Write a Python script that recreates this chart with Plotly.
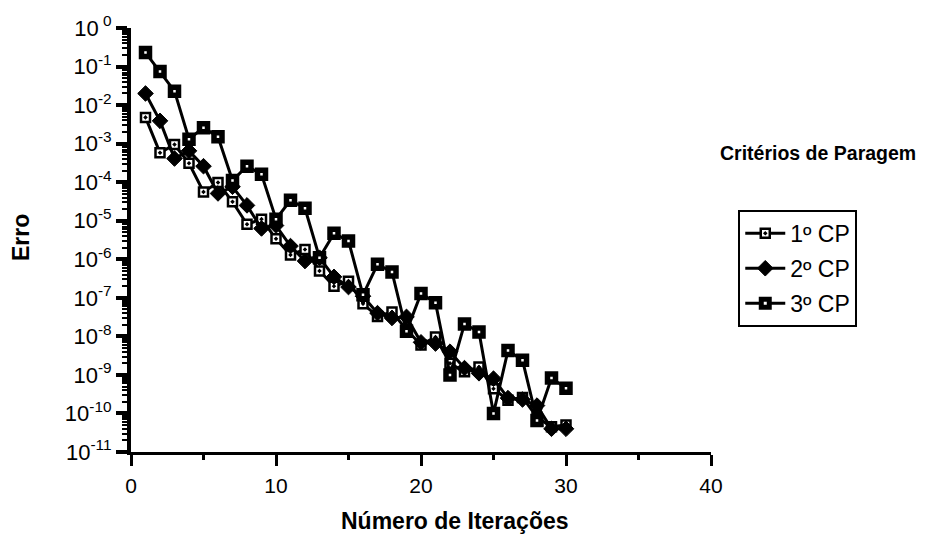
import plotly.graph_objects as go

iterations = list(range(1, 31))

cp1 = [4.8e-3, 5.8e-4, 9.5e-4, 3.1e-4, 5.6e-5, 9.8e-5, 3.1e-5, 8.1e-6, 1.1e-5, 3.4e-6,
       1.3e-6, 1.8e-6, 5.0e-7, 2.0e-7, 2.7e-7, 7.0e-8, 3.3e-8, 4.3e-8, 1.5e-8, 6.0e-9,
       9.6e-9, 2.0e-9, 1.2e-9, 1.6e-9, 4.4e-10, 2.2e-10, 2.6e-10, 8.0e-11, 4.5e-11, 5.0e-11]

cp2 = [2.0e-2, 3.9e-3, 4.1e-4, 6.5e-4, 2.6e-4, 5.1e-5, 7.6e-5, 2.5e-5, 6.3e-6, 7.5e-6,
       2.2e-6, 9.0e-7, 1.1e-6, 3.5e-7, 1.9e-7, 1.1e-7, 4.0e-8, 3.0e-8, 3.2e-8, 7.0e-9,
       6.5e-9, 4.0e-9, 1.5e-9, 1.1e-9, 8.0e-10, 2.5e-10, 2.3e-10, 1.6e-10, 4.0e-11, 4.0e-11]

cp3 = [2.3e-1, 7.4e-2, 2.3e-2, 1.3e-3, 2.6e-3, 1.5e-3, 1.1e-4, 2.6e-4, 1.6e-4, 1.1e-5,
       3.4e-5, 2.1e-5, 1.1e-6, 4.7e-6, 3.0e-6, 1.2e-7, 7.4e-7, 4.7e-7, 1.35e-8, 1.3e-7,
       7.5e-8, 1.0e-9, 2.1e-8, 1.3e-8, 1.0e-10, 4.3e-9, 2.4e-9, 6.6e-11, 8.3e-10, 4.5e-10]

series_names = ["1º CP", "2º CP", "3º CP"]
y_exponents = list(range(0, -12, -1))
y_tickvals = [10.0 ** e for e in y_exponents]
y_ticktext = [f"10<sup>{e}</sup>" if e != 0 else "10<sup> 0</sup>" for e in y_exponents]
y_minor = [m * 10.0 ** e for e in range(-11, 0) for m in range(2, 10)]
x_tickvals = [0, 10, 20, 30, 40]
x_minor = [5, 15, 25, 35]

FONT = "Liberation Sans, Arial, Helvetica, sans-serif"

fig = go.Figure()

fig.add_trace(go.Scatter(
    x=iterations, y=cp1, name=series_names[0], mode="lines+markers",
    line=dict(color="black", width=3), legendgroup="a",
    marker=dict(symbol="square-dot", size=9, color="white",
                line=dict(color="black", width=2.5)),
))
fig.add_trace(go.Scatter(
    x=iterations, y=cp2, name=series_names[1], mode="lines+markers",
    line=dict(color="black", width=3), legendgroup="b",
    marker=dict(symbol="diamond", size=12, color="black",
                line=dict(color="black", width=1)),
))
fig.add_trace(go.Scatter(
    x=iterations, y=cp3, name=series_names[2], mode="lines+markers",
    line=dict(color="black", width=3), legendgroup="c",
    marker=dict(symbol="square", size=8, color="white",
                line=dict(color="black", width=5.5)),
))
# invisible helper trace that carries the minor-tick overlay axes
fig.add_trace(go.Scatter(
    x=iterations, y=cp1, xaxis="x2", yaxis="y2", mode="markers",
    marker=dict(opacity=0), showlegend=False, hoverinfo="skip",
))

fig.update_layout(
    width=928, height=547,
    margin=dict(l=131, r=217, t=28, b=95),
    paper_bgcolor="white", plot_bgcolor="white",
    font=dict(family=FONT, color="black", size=21),
    legend=dict(
        x=1.047, y=0.571, xanchor="left", yanchor="top",
        bordercolor="black", borderwidth=2, bgcolor="white",
        font=dict(size=23, family=FONT), tracegroupgap=2,
        traceorder="grouped", itemwidth=40,
    ),
    xaxis=dict(
        range=[0, 40], tickmode="array", tickvals=x_tickvals, ticks="outside", ticklen=11,
        tickwidth=3, tickcolor="black", showline=True, linecolor="black", linewidth=3,
        showgrid=False, zeroline=False, tickfont=dict(size=21), ticklabelstandoff=2,
    ),
    yaxis=dict(
        type="log", range=[-11, 0], tickmode="array", tickvals=y_tickvals,
        ticktext=y_ticktext, ticks="outside", ticklen=11, tickwidth=3.5, tickcolor="black",
        showline=True, linecolor="black", linewidth=4,
        showgrid=False, zeroline=False, tickfont=dict(size=22),
    ),
    xaxis2=dict(
        overlaying="x", anchor="y", side="bottom", range=[0, 40],
        tickmode="array", tickvals=x_minor, ticks="outside", ticklen=7, tickwidth=2.5,
        tickcolor="black", showticklabels=False, showline=False, showgrid=False,
        zeroline=False,
    ),
    yaxis2=dict(
        overlaying="y", anchor="x", side="left", type="log", range=[-11, 0],
        tickmode="array", tickvals=y_minor, ticks="outside", ticklen=8, tickwidth=2,
        tickcolor="black", showticklabels=False, showline=False, showgrid=False,
        zeroline=False,
    ),
    annotations=[
        dict(text="<b>Critérios de Paragem</b>", xref="paper", yref="paper",
             x=(818 - 131) / 580, y=(452 - 153) / 424, xanchor="center", yanchor="middle",
             showarrow=False, font=dict(size=19.5, family=FONT)),
        dict(text="<b>Número de Iterações</b>", xref="paper", yref="paper",
             x=(455 - 131) / 580, y=(452 - 521) / 424, xanchor="center", yanchor="middle",
             showarrow=False, font=dict(size=23, family=FONT)),
        dict(text="<b>Erro</b>", xref="paper", yref="paper", textangle=-90,
             x=(21 - 131) / 580, y=(452 - 238) / 424, xanchor="center", yanchor="middle",
             showarrow=False, font=dict(size=23, family=FONT)),
    ],
)

fig.write_html("out.html")
